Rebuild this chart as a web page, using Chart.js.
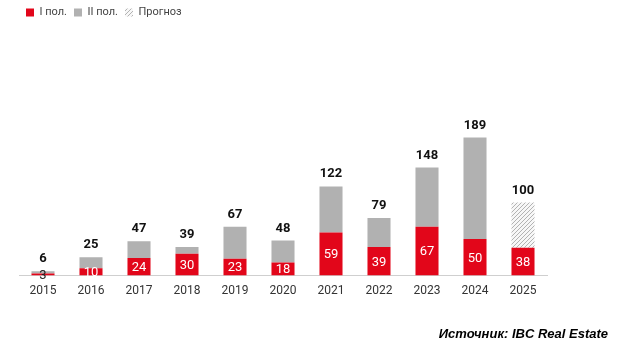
<!DOCTYPE html>
<html>
<head>
<meta charset="utf-8">
<script src="https://cdn.jsdelivr.net/npm/chart.js@4"></script>
<style>
  body { margin: 0; background: #fff; }
  #wrap { width: 620px; height: 345px; }
</style>
</head>
<body>
<div id="wrap"><canvas id="myChart" width="620" height="345"></canvas></div>
<script>
const years = ['2015', '2016', '2017', '2018', '2019', '2020', '2021', '2022', '2023', '2024', '2025'];
const firstHalf = [3, 10, 24, 30, 23, 18, 59, 39, 67, 50, 38];
const secondHalf = [3, 15, 23, 9, 44, 30, 63, 40, 81, 139, null];
const forecast = [null, null, null, null, null, null, null, null, null, null, 62];
const totals = [6, 25, 47, 39, 67, 48, 122, 79, 148, 189, 100];

const RED = '#e2061a';
const GREY = '#b1b1b1';

// hatched fill for the forecast part
function makeHatch() {
  const c = document.createElement('canvas');
  c.width = 4; c.height = 4;
  const g = c.getContext('2d');
  g.fillStyle = '#f7f7f7';
  g.fillRect(0, 0, 4, 4);
  g.strokeStyle = '#b3b3b3';
  g.lineWidth = 1;
  g.beginPath();
  g.moveTo(0, 4); g.lineTo(4, 0);
  g.moveTo(-1, 1); g.lineTo(1, -1);
  g.moveTo(3, 5); g.lineTo(5, 3);
  g.stroke();
  return g.createPattern(c, 'repeat');
}

const barLabels = {
  id: 'barLabels',
  afterDatasetsDraw(chart) {
    const ctx = chart.ctx;
    const red = chart.getDatasetMeta(0).data;
    ctx.save();
    ctx.textAlign = 'center';
    ctx.textBaseline = 'middle';
    ctx.font = '13px Roboto';
    red.forEach((bar, i) => {
      const mid = (bar.y + bar.base) / 2;
      ctx.fillStyle = firstHalf[i] < 5 ? '#222' : '#fff';
      ctx.fillText(firstHalf[i], bar.x, mid + 1);
    });
    ctx.font = 'bold 13px Roboto';
    ctx.fillStyle = '#111';
    ctx.textBaseline = 'alphabetic';
    years.forEach((y, i) => {
      let top = red[i].y;
      [1, 2].forEach(d => {
        const el = chart.getDatasetMeta(d).data[i];
        if (chart.data.datasets[d].data[i] != null) top = Math.min(top, el.y);
      });
      ctx.fillText(totals[i], red[i].x, top - 9);
    });
    ctx.font = 'italic bold 13px "Liberation Sans"';
    ctx.textAlign = 'right';
    ctx.fillStyle = '#000';
    ctx.fillText('Источник: IBC Real Estate', 608, 338);
    ctx.restore();
  }
};

new Chart(document.getElementById('myChart'), {
  type: 'bar',
  data: {
    labels: years,
    datasets: [
      { label: 'I пол.', data: firstHalf, backgroundColor: RED },
      { label: 'II пол.', data: secondHalf, backgroundColor: GREY },
      { label: 'Прогноз', data: forecast, backgroundColor: makeHatch() },
    ],
  },
  options: {
    responsive: false,
    animation: false,
    layout: { padding: { left: 19, right: 73, top: 0, bottom: 47 } },
    datasets: { bar: { barPercentage: 0.48, categoryPercentage: 1 } },
    scales: {
      x: {
        stacked: true,
        grid: { display: false },
        border: { display: true, color: '#cfcfcf' },
        ticks: { color: '#333', font: { family: 'Roboto', size: 12 }, padding: 0 },
      },
      y: {
        stacked: true,
        display: false,
        min: 0,
        max: 339,
      },
    },
    plugins: {
      legend: {
        align: 'start',
        labels: {
          boxWidth: 8,
          boxHeight: 8,
          padding: 7,
          color: '#444',
          font: { family: 'Roboto', size: 11 },
        },
      },
      tooltip: { enabled: false },
    },
  },
  plugins: [barLabels],
});
</script>
</body>
</html>
